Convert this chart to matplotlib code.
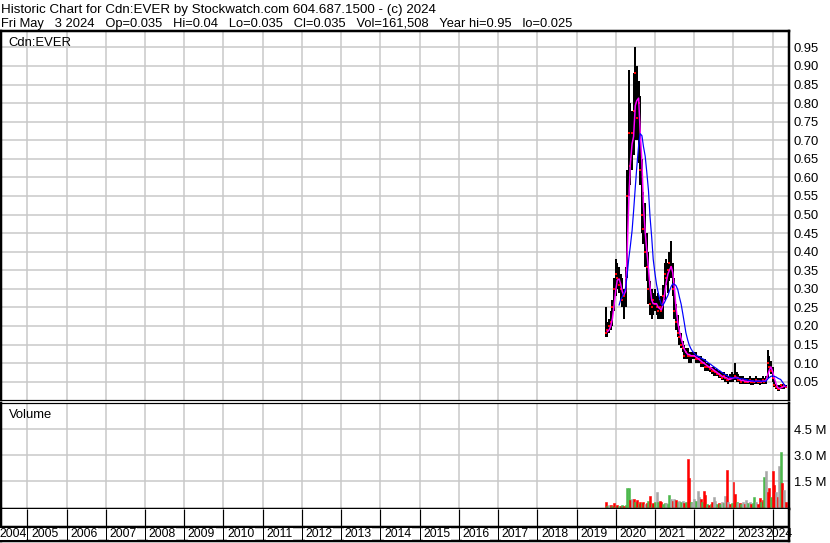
import numpy as np
import pandas as pd
import matplotlib
matplotlib.use('Agg')
import matplotlib.pyplot as plt
from matplotlib.transforms import ScaledTranslation

plt.rcParams['font.family'] = ['Liberation Sans', 'DejaVu Sans']

# semi-monthly bars, 2019-10-01 .. 2024-05-01
dates = pd.date_range('2019-10-01', '2024-05-01', freq='SMS')

high = [.25, .21, .22, .24, .27, .33, .38, .37, .36, .34,
        .33, .30, .36, .62, .89, .80, .78, .88, .95, .90,
        .86, .82, .65, .56, .53, .45, .40, .32, .30, .29,
        .30, .28, .29, .27, .28, .31, .37, .38, .37, .40,
        .43, .37, .33, .26, .23, .20, .18, .16, .15, .14,
        .14, .13, .13, .13, .13, .13, .12, .12, .12, .11,
        .11, .11, .10, .10, .09, .09, .09, .085, .085, .08,
        .08, .075, .075, .07, .07, .065, .07, .075, .07, .10,
        .075, .07, .065, .065, .065, .06, .06, .06, .065, .06,
        .06, .06, .065, .06, .06, .06, .065, .06, .065, .135,
        .12, .105, .09, .06, .045, .04, .04, .045, .045, .045, .04]

low = [.17, .17, .18, .19, .20, .24, .28, .30, .29, .27,
       .25, .22, .25, .33, .55, .58, .62, .66, .70, .70,
       .64, .58, .45, .42, .36, .32, .26, .23, .22, .23,
       .24, .23, .22, .22, .22, .22, .27, .31, .29, .32,
       .33, .28, .22, .19, .17, .15, .14, .13, .11, .11,
       .11, .10, .10, .11, .11, .10, .10, .10, .09, .09,
       .09, .08, .08, .08, .075, .07, .065, .065, .065, .06,
       .06, .055, .055, .05, .05, .045, .05, .05, .05, .055,
       .05, .05, .045, .045, .045, .045, .045, .045, .045, .04,
       .04, .045, .045, .045, .04, .045, .045, .045, .045, .06,
       .08, .07, .05, .035, .03, .025, .025, .03, .03, .03, .035]

close = [.18, .19, .20, .21, .25, .30, .34, .33, .31, .30,
         .27, .28, .33, .55, .72, .63, .72, .78, .88, .76,
         .80, .62, .50, .46, .40, .36, .30, .26, .25, .27,
         .26, .25, .24, .25, .24, .28, .34, .33, .35, .37,
         .36, .30, .24, .21, .18, .17, .15, .14, .12, .13,
         .12, .12, .12, .12, .12, .11, .11, .11, .10, .10,
         .10, .09, .09, .09, .085, .08, .08, .075, .07, .07,
         .065, .06, .065, .06, .055, .055, .06, .06, .06, .065,
         .06, .055, .055, .05, .055, .05, .05, .05, .055, .05,
         .05, .05, .055, .05, .05, .05, .055, .05, .055, .10,
         .09, .08, .06, .04, .035, .03, .03, .04, .035, .04, .035]

# volume in millions, colour code r=down g=up n=unchanged
volume = [.30, .10, .15, .12, .08, .22, .10, .12, .08, .10,
          .12, .10, .15, 1.08, 1.08, .40, .45, .45, .30, .40,
          .20, .30, .25, .30, .20, .25, .35, .63, .20, .25,
          .30, .88, .30, .35, .30, .20, .25, .25, .20, .69,
          .45, .35, .45, .40, .30, .35, .30, .35, .25, .30,
          2.80, 1.67, .30, .25, .50, .35, .92, .60, .45, .30,
          .92, .70, .20, .15, .20, .30, .57, .35, .20, .25,
          .20, .30, .25, .65, 2.13, .30, .20, .25, 1.46, .75,
          .30, .25, .25, .20, .30, .20, .40, .25, .30, .20,
          .25, .57, .30, .20, .52, .30, .40, 1.75, 2.08, .90,
          1.10, .60, 2.08, 1.27, .90, .60, 2.38, 3.19, 1.38, .98, .30]
vol_dir = list('rgnrgrgrgr'
               'grggg' 'rnrgr'
               'grgrn' 'rgrgr'
               'gngrr' 'ggngg'
               'nrnrg' 'ngnrg'
               'rrgnn' 'gnnrg'
               'rrgrg' 'rnngr'
               'gngnr' 'nrgrr'
               'gnrgn' 'rngnr'
               'ggnrr' 'grgnr'
               'rgrrn' 'rngrn' 'r')

years = np.arange(2004, 2025)
price_ticks = np.arange(0.05, 0.951, 0.05)
vol_ticks = [1.5, 3.0, 4.5]

title1 = 'Historic Chart for Cdn:EVER by Stockwatch.com 604.687.1500 - (c) 2024'
title2 = ('Fri May   3 2024   Op=0.035   Hi=0.04   Lo=0.035   Cl=0.035   '
          'Vol=161,508   Year hi=0.95   lo=0.025')

t = dates.year + (dates.dayofyear - 1) / (365 + dates.is_leap_year.astype(int))
t = np.asarray(t, dtype=float)
s_close = pd.Series(close)
ma_short = s_close.rolling(3, min_periods=2).mean()
ma_long = s_close.rolling(9).mean()

W, H = 830, 543
fig = plt.figure(figsize=(8.3, 5.43), dpi=100)
fs = 9.4
fs_date = 8.8
grid_c = '#c8c8c8'
px = 0.72  # one pixel in points
xlim = (2004.33, 2024.415)


def box(top, bottom, left=1, right=789):
    return [left / W, 1 - bottom / H, (right - left) / W, (bottom - top) / H]


ax = fig.add_axes(box(31, 400.3))
axv = fig.add_axes(box(403, 509))
axd = fig.add_axes(box(509, 541))

for a in (ax, axv):
    a.set_xlim(*xlim)
    a.set_xticks(years[1:])
    a.tick_params(axis='x', length=0, labelbottom=False)
    a.yaxis.tick_right()
    a.tick_params(axis='y', length=0, pad=3.5, labelsize=fs, labelcolor='black')
    a.grid(True, color=grid_c, lw=1.5 * px)
    a.set_axisbelow(True)
    for sp in a.spines.values():
        sp.set_color('black')

# price panel
ax.set_ylim(0, 0.994)
ax.set_yticks(price_ticks)
ax.set_yticklabels(['%.2f' % v for v in price_ticks])
ax.spines['top'].set_linewidth(2.5 * px)
ax.spines['left'].set_linewidth(2.5 * px)
ax.spines['right'].set_linewidth(2.5 * px)
ax.spines['bottom'].set_linewidth(1.2 * px)
ax.vlines(t, low, high, color='black', lw=2.0 * px, zorder=2)
ax.plot(t, close, 's', color='red', ms=1.8, mew=0, zorder=3)
ax.plot(t, ma_short, color='#ff00ff', lw=1.5 * px, zorder=4)
ax.plot(t, ma_long, color='#0000ff', lw=1.2 * px, zorder=5)
ax.text(7 / 789, 1 - 15.5 / 369.3, 'Cdn:EVER', transform=ax.transAxes,
        fontsize=fs, va='baseline', ha='left', color='black')

# volume panel
axv.set_ylim(-0.1, 6.0)
axv.set_yticks(vol_ticks)
axv.set_yticklabels(['%.1f M' % v for v in vol_ticks])
axv.spines['top'].set_linewidth(1.2 * px)
axv.spines['left'].set_linewidth(2.5 * px)
axv.spines['right'].set_linewidth(2.5 * px)
axv.spines['bottom'].set_linewidth(2.5 * px)
vcols = {'r': '#ff0000', 'g': '#4cb84c', 'n': '#a8a8a8'}
bar_cols = [vcols[c] for c in vol_dir]
axv.bar(t, volume, width=1.2 / 24, color=bar_cols, edgecolor=bar_cols,
        lw=0.4, align='center', zorder=2)
axv.text(8 / 789, 1 - 15 / 106, 'Volume', transform=axv.transAxes,
         fontsize=fs, va='baseline', ha='left', color='black')

# date strip
axd.set_xlim(*xlim)
axd.set_ylim(0, 1)
axd.set_xticks([])
axd.set_yticks([])
for name, sp in axd.spines.items():
    sp.set_color('black')
    sp.set_linewidth(2.5 * px)
axd.spines['top'].set_visible(False)
row = 14 / 32
axd.axhline(row, color='black', lw=2.5 * px)
axd.vlines(years[1:], row, 1, color='black', lw=1.2 * px)
axd.vlines(years[1:], 0, row, color='black', lw=1.0 * px)
off = ScaledTranslation(3.7 / 100, 0, fig.dpi_scale_trans)
for i, y in enumerate(years):
    if i == 0:
        axd.text(y + 1 - 1 / 39.25, 0.22, str(y), ha='right', va='center',
                 fontsize=fs_date, color='black',
                 bbox=dict(fc='white', ec='none', pad=0))
    elif i == len(years) - 1:
        axd.text(1, 0.22, str(y), ha='right', va='center', fontsize=fs_date,
                 color='black', transform=axd.transAxes + off)
    else:
        axd.text(y, 0.22, str(y), ha='left', va='center', fontsize=fs_date,
                 color='black', transform=axd.transData + off,
                 bbox=dict(fc='white', ec='none', pad=0.3))

fig.text(1 / W, 1 - 13 / H, title1, fontsize=9.6, va='baseline', ha='left')
fig.text(1 / W, 1 - 27.5 / H, title2, fontsize=9.3, va='baseline', ha='left')

fig.savefig('out.png', dpi=100)
